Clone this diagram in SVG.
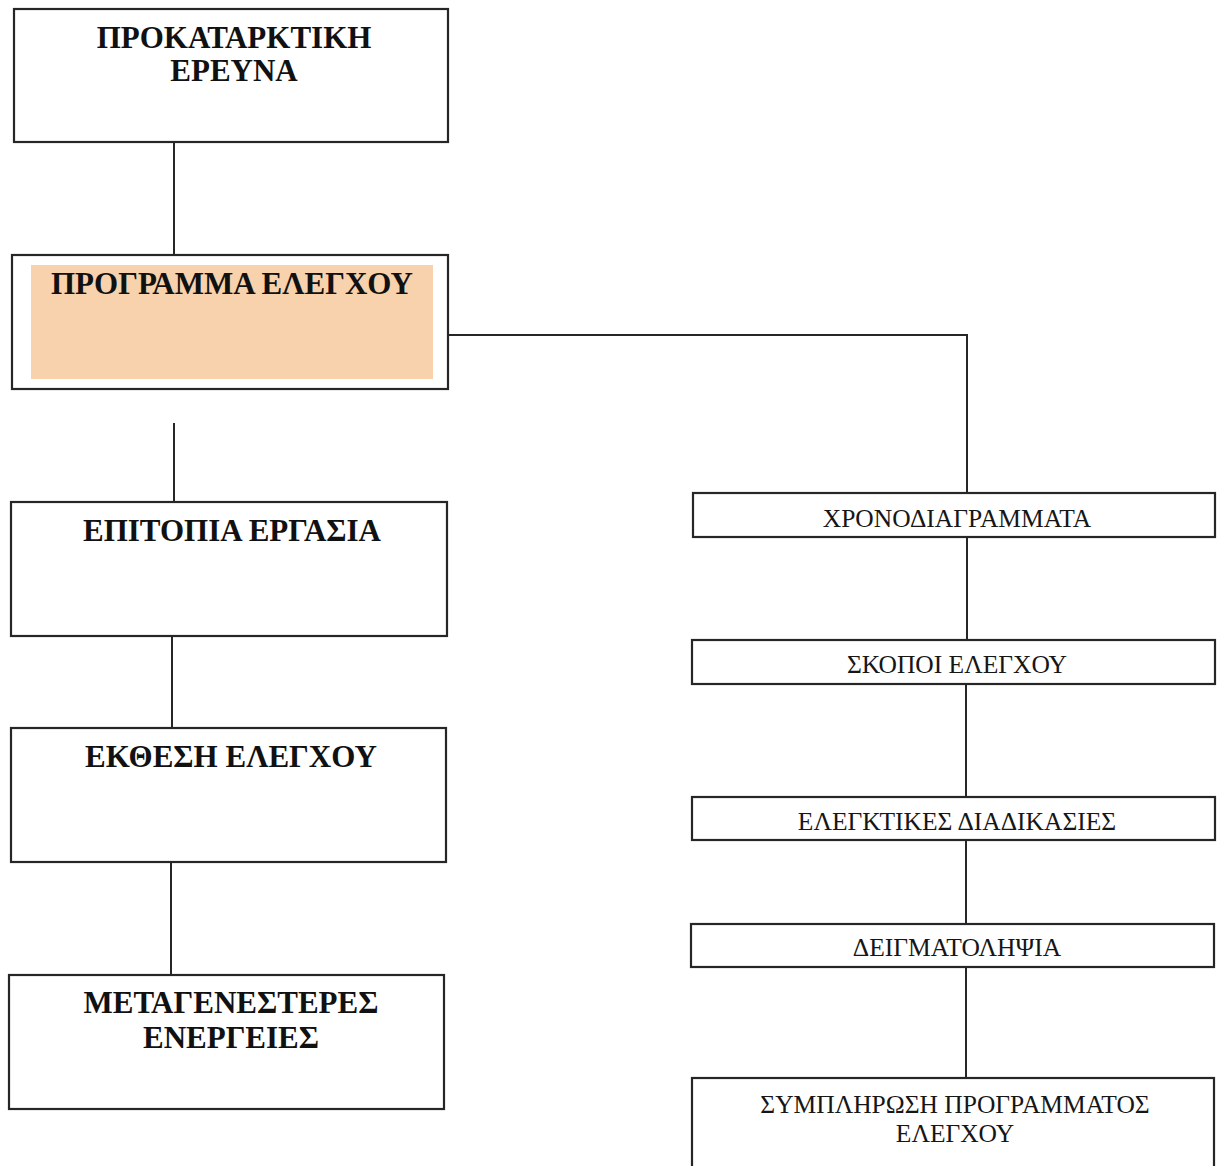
<svg xmlns="http://www.w3.org/2000/svg" width="1222" height="1166" viewBox="0 0 1222 1166">
  <style>
    .box { fill: #ffffff; stroke: #262626; stroke-width: 2.2; }
    .wire { fill: none; stroke: #262626; stroke-width: 2; }
    .main { font-family: "Liberation Serif", "Times New Roman", serif; font-weight: bold; font-size: 31px; fill: #111111; text-anchor: middle; }
    .sub { font-family: "Liberation Serif", "Times New Roman", serif; font-size: 25.5px; fill: #161616; text-anchor: middle; }
  </style>
  <rect width="1222" height="1166" fill="#ffffff"/>

  <g id="connectors">
    <line class="wire" x1="174" y1="142" x2="174" y2="255"/>
    <polyline class="wire" points="448,335 967,335 967,493"/>
    <line class="wire" x1="174" y1="423" x2="174" y2="502"/>
    <line class="wire" x1="172" y1="636" x2="172" y2="728"/>
    <line class="wire" x1="171" y1="862" x2="171" y2="975"/>
    <line class="wire" x1="967" y1="537" x2="967" y2="640"/>
    <line class="wire" x1="966" y1="684" x2="966" y2="797"/>
    <line class="wire" x1="966" y1="840" x2="966" y2="924"/>
    <line class="wire" x1="966" y1="967" x2="966" y2="1078"/>
  </g>

  <g id="node-preliminary">
    <rect class="box" x="14" y="9" width="434" height="133"/>
    <text class="main" x="234" y="48">ΠΡΟΚΑΤΑΡΚΤΙΚΗ</text>
    <text class="main" x="234" y="81">ΕΡΕΥΝΑ</text>
  </g>

  <g id="node-program">
    <rect class="box" x="12" y="255" width="436" height="134"/>
    <rect x="31" y="265" width="402" height="114" fill="#f8d2ac"/>
    <text class="main" x="232" y="294">ΠΡΟΓΡΑΜΜΑ ΕΛΕΓΧΟΥ</text>
  </g>

  <g id="node-fieldwork">
    <rect class="box" x="11" y="502" width="436" height="134"/>
    <text class="main" x="232" y="541">ΕΠΙΤΟΠΙΑ ΕΡΓΑΣΙΑ</text>
  </g>

  <g id="node-report">
    <rect class="box" x="11" y="728" width="435" height="134"/>
    <text class="main" x="231" y="767">ΕΚΘΕΣΗ ΕΛΕΓΧΟΥ</text>
  </g>

  <g id="node-followup">
    <rect class="box" x="9" y="975" width="435" height="134"/>
    <text class="main" x="231" y="1013">ΜΕΤΑΓΕΝΕΣΤΕΡΕΣ</text>
    <text class="main" x="231" y="1048">ΕΝΕΡΓΕΙΕΣ</text>
  </g>

  <g id="node-schedules">
    <rect class="box" x="693" y="493" width="522" height="44"/>
    <text class="sub" x="957" y="527">ΧΡΟΝΟΔΙΑΓΡΑΜΜΑΤΑ</text>
  </g>

  <g id="node-objectives">
    <rect class="box" x="692" y="640" width="523" height="44"/>
    <text class="sub" x="957" y="673">ΣΚΟΠΟΙ ΕΛΕΓΧΟΥ</text>
  </g>

  <g id="node-procedures">
    <rect class="box" x="692" y="797" width="523" height="43"/>
    <text class="sub" x="957" y="830">ΕΛΕΓΚΤΙΚΕΣ ΔΙΑΔΙΚΑΣΙΕΣ</text>
  </g>

  <g id="node-sampling">
    <rect class="box" x="691" y="924" width="523" height="43"/>
    <text class="sub" x="957" y="956">ΔΕΙΓΜΑΤΟΛΗΨΙΑ</text>
  </g>

  <g id="node-completion">
    <rect class="box" x="692" y="1078" width="522" height="100"/>
    <text class="sub" x="955" y="1113">ΣΥΜΠΛΗΡΩΣΗ ΠΡΟΓΡΑΜΜΑΤΟΣ</text>
    <text class="sub" x="955" y="1142">ΕΛΕΓΧΟΥ</text>
  </g>
</svg>
